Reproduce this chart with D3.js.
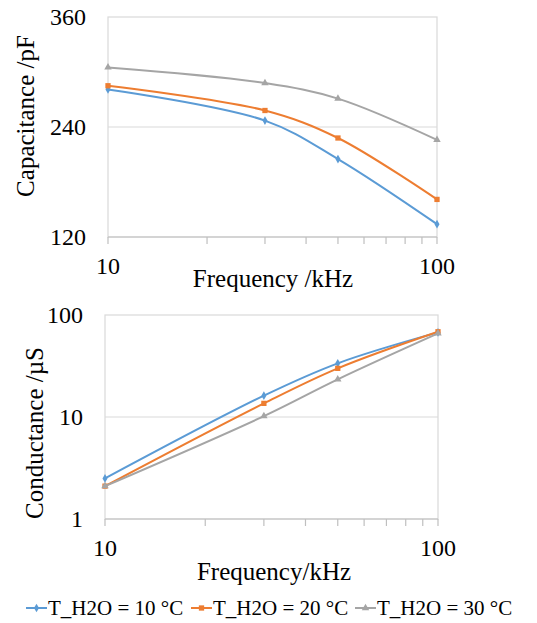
<!DOCTYPE html>
<html>
<head>
<meta charset="utf-8">
<script src="https://cdn.jsdelivr.net/npm/d3@7"></script>
</head>
<body style="margin:0">
<script>
// data
var freq = [10, 30, 50, 100];
var seriesNames = ["T_H2O = 10 °C", "T_H2O = 20 °C", "T_H2O = 30 °C"];
var colors = ["#5b9bd5", "#ed7d31", "#a5a5a5"];
var capacitance10 = [281, 247, 205, 134];
var capacitance20 = [285, 258, 228, 161];
var capacitance30 = [305, 288, 271, 226];
var conductance10 = [2.5, 16.2, 33.6, 67.5];
var conductance20 = [2.1, 13.6, 30, 68.5];
var conductance30 = [2.1, 10.2, 23.4, 66];
var capTicks = [120, 240, 360];
var condTicks = [1, 10, 100];
var freqTicks = [10, 100];
var minorTicks = [10, 20, 30, 40, 50, 60, 70, 80, 90, 100];

var W = 537, H = 623;
var FONT = "'Liberation Serif'";
var svg = d3.select("body").append("svg").attr("width", W).attr("height", H);

var markers = [d3.symbolDiamond, d3.symbolSquare, d3.symbolTriangle];
var markerSize = [22, 28, 24];

function label(sel, size) {
  return sel.style("font-family", FONT).style("font-size", size + "px");
}

function panel(opts) {
  var g = svg.append("g");
  var x = d3.scaleLog().domain([10, 100]).range([opts.left, opts.right]);
  var y = opts.yScale;

  // frame
  g.append("rect")
    .attr("x", opts.left).attr("y", y.range()[1])
    .attr("width", opts.right - opts.left).attr("height", y.range()[0] - y.range()[1])
    .attr("fill", "none").attr("stroke", "#d9d9d9").attr("stroke-width", 1.2);

  // gridlines
  g.selectAll(".grid").data(opts.ticks.slice(1, -1)).enter().append("line")
    .attr("x1", opts.left).attr("x2", opts.right)
    .attr("y1", function(d) { return y(d); }).attr("y2", function(d) { return y(d); })
    .attr("stroke", "#d9d9d9").attr("stroke-width", 1.2);

  // x axis line and minor ticks
  var base = y.range()[0];
  g.append("line").attr("x1", opts.left).attr("x2", opts.right)
    .attr("y1", base).attr("y2", base).attr("stroke", "#bfbfbf").attr("stroke-width", 1.2);
  g.selectAll(".mt").data(minorTicks).enter().append("line")
    .attr("x1", function(d) { return x(d); }).attr("x2", function(d) { return x(d); })
    .attr("y1", base).attr("y2", base + 7)
    .attr("stroke", "#bfbfbf").attr("stroke-width", 1.2);

  // y tick labels
  g.selectAll(".yl").data(opts.ticks).enter().append("text")
    .attr("x", opts.left - 22).attr("y", function(d) { return y(d); })
    .attr("dy", "0.35em").attr("text-anchor", "end")
    .call(label, 24)
    .text(function(d) { return d; });

  // x tick labels
  g.selectAll(".xl").data(freqTicks).enter().append("text")
    .attr("x", function(d) { return x(d); }).attr("y", base + 37)
    .attr("text-anchor", "middle")
    .call(label, 24)
    .text(function(d) { return d; });

  // axis titles
  g.append("text").attr("x", opts.xTitleX).attr("y", opts.xTitleY)
    .attr("text-anchor", "middle").call(label, 25).text(opts.xTitle);
  g.append("text")
    .attr("transform", "translate(" + opts.yTitleX + "," + opts.yTitleY + ") rotate(-90)")
    .attr("text-anchor", "middle").call(label, 25).text(opts.yTitle);

  var line = d3.line()
    .x(function(d, i) { return x(freq[i]); })
    .y(function(d) { return y(d); })
    .curve(d3.curveCatmullRom.alpha(0.5));

  opts.series.forEach(function(vals, s) {
    g.append("path").datum(vals)
      .attr("d", line).attr("fill", "none")
      .attr("stroke", colors[s]).attr("stroke-width", 2);
    g.selectAll(".m" + s).data(vals).enter().append("path")
      .attr("d", d3.symbol().type(markers[s]).size(markerSize[s]))
      .attr("transform", function(d, i) { return "translate(" + x(freq[i]) + "," + y(d) + ")"; })
      .attr("fill", colors[s]);
  });
}

panel({
  left: 108, right: 437,
  yScale: d3.scaleLinear().domain([120, 360]).range([237, 17]),
  ticks: capTicks,
  series: [capacitance10, capacitance20, capacitance30],
  xTitle: "Frequency /kHz", xTitleX: 273, xTitleY: 287,
  yTitle: "Capacitance /pF", yTitleX: 34, yTitleY: 116
});

panel({
  left: 105, right: 438,
  yScale: d3.scaleLog().domain([1, 100]).range([519, 315]),
  ticks: condTicks,
  series: [conductance10, conductance20, conductance30],
  xTitle: "Frequency/kHz", xTitleX: 274, xTitleY: 580,
  yTitle: "Conductance /µS", yTitleX: 43, yTitleY: 433
});

// legend
var legend = svg.append("g");
var legendX = [26, 191, 355];
seriesNames.forEach(function(name, s) {
  var lg = legend.append("g").attr("transform", "translate(" + legendX[s] + ",608)");
  lg.append("line").attr("x1", 0).attr("x2", 21).attr("y1", 0).attr("y2", 0)
    .attr("stroke", colors[s]).attr("stroke-width", 2);
  lg.append("path").attr("d", d3.symbol().type(markers[s]).size(markerSize[s]))
    .attr("transform", "translate(10.5,0)").attr("fill", colors[s]);
  lg.append("text").attr("x", 22).attr("y", 0).attr("dy", "0.35em")
    .call(label, 21).text(name);
});
</script>
</body>
</html>
